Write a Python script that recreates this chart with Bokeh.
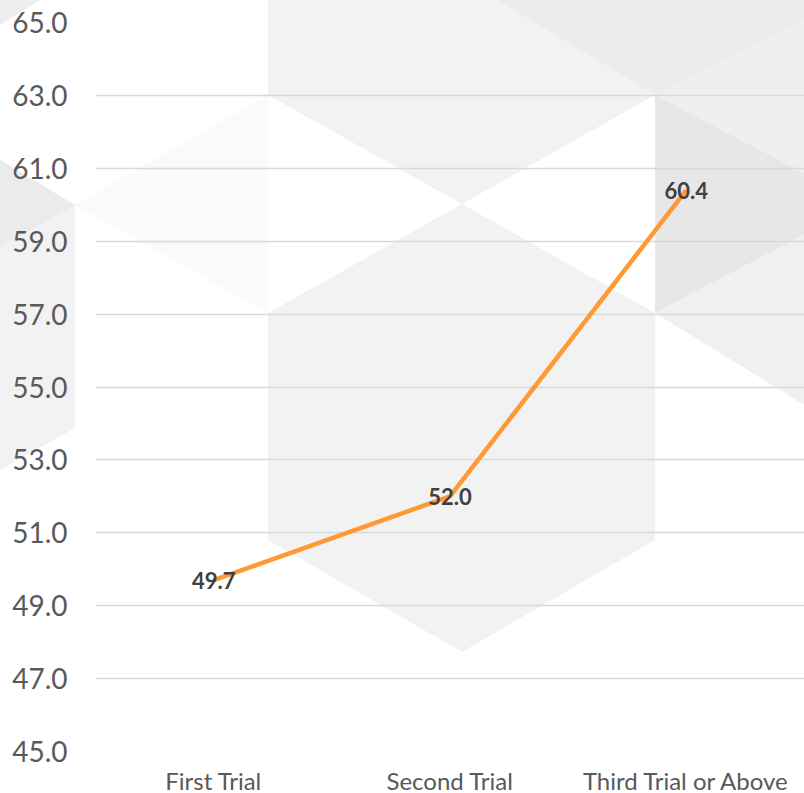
from urllib.parse import quote
from bokeh.plotting import figure
from bokeh.models import (ColumnDataSource, FactorRange, Range1d, FixedTicker,
                          NumeralTickFormatter, LabelSet)
from bokeh.core.properties import value
from bokeh.embed import file_html
from bokeh.resources import INLINE

# ---- data ----
categories = ["First Trial", "Second Trial", "Third Trial or Above"]
values = [49.7, 52.0, 60.4]
value_labels = ["49.7", "52.0", "60.4"]
y_ticks = [45, 47, 49, 51, 53, 55, 57, 59, 61, 63, 65]

# ---- decorative background pattern (page pixels), drawn as a CSS background ----
DECOR = [
    ("#eeeeee", [(0, 0), (40, 0), (0, 25)]),
    ("#f2f2f2", [(0, 160), (75, 205), (75, 428), (0, 470)]),
    ("#ebebeb", [(0, 160), (75, 205), (0, 247)]),
    ("#fafafa", [(268, 95), (75, 205), (268, 313)]),
    ("#f2f2f2", [(268, 0), (655, 0), (655, 95), (462, 204), (268, 95)]),
    ("#ececec", [(497, 0), (655, 0), (655, 95)]),
    ("#f2f2f2", [(268, 313), (462, 204), (655, 313), (655, 540), (462, 652), (268, 540)]),
    ("#ebebeb", [(655, 0), (804, 0), (804, 20), (655, 95)]),
    ("#efefef", [(655, 95), (804, 20), (804, 173)]),
    ("#e7e7e7", [(655, 95), (804, 173), (804, 235), (655, 313)]),
    ("#f0f0f0", [(655, 313), (804, 235), (804, 405)]),
]

svg = ['<svg xmlns="http://www.w3.org/2000/svg" width="804" height="793">',
       '<rect width="804" height="793" fill="#ffffff"/>']
for color, pts in DECOR:
    svg.append('<polygon points="%s" fill="%s"/>' % (" ".join("%d,%d" % xy for xy in pts), color))
svg.append('</svg>')
bg_url = "url(\"data:image/svg+xml;charset=utf-8," + quote("".join(svg)) + "\")"

source = ColumnDataSource(dict(cat=categories, val=values, lab=value_labels))

p = figure(output_backend="svg", toolbar_location=None,
           frame_width=709, frame_height=729,
           x_range=FactorRange(factors=categories, range_padding=0),
           y_range=Range1d(45, 65),
           min_border_left=95, min_border_right=0, min_border_top=22, min_border_bottom=0)
p.background_fill_alpha = 0
p.border_fill_alpha = 0
p.outline_line_color = None
p.styles = {"background-image": bg_url, "background-repeat": "no-repeat",
            "background-position": "0 0", "background-color": "#ffffff"}

p.line(x="cat", y="val", source=source, line_color="#ff9933", line_width=4.5)

labels = LabelSet(x="cat", y="val", text="lab", source=source,
                  text_align="center", text_baseline="middle",
                  text_font=value("Lato"), text_font_style="bold", text_font_size="22px",
                  text_color="#404040")
p.add_layout(labels)

# axes
p.yaxis.ticker = FixedTicker(ticks=y_ticks)
p.yaxis.formatter = NumeralTickFormatter(format="0.0")
for ax in (p.xaxis[0], p.yaxis[0]):
    ax.axis_line_color = None
    ax.major_tick_line_color = None
    ax.minor_tick_line_color = None
    ax.major_tick_out = 0
    ax.major_tick_in = 0
    ax.major_label_text_color = "#595959"
    ax.major_label_text_font = "Lato"
p.yaxis.major_label_text_font_size = "28px"
p.yaxis.major_label_standoff = 28
p.xaxis.major_label_text_font_size = "24px"
p.xaxis.major_label_standoff = 14

p.xgrid.grid_line_color = None
p.ygrid.ticker = FixedTicker(ticks=y_ticks)
p.ygrid.grid_line_color = "#d9d9d9"
p.ygrid.grid_line_width = 1.5

open("out.html", "w").write(file_html(p, INLINE))
